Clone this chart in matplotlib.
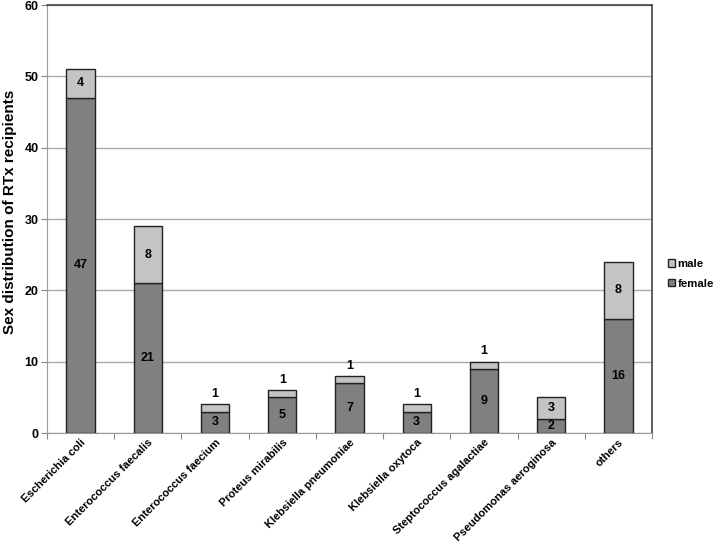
import matplotlib
matplotlib.use("Agg")
import matplotlib.pyplot as plt
import numpy as np

categories = ["Escherichia coli", "Enterococcus faecalis", "Enterococcus faecium",
              "Proteus mirabilis", "Klebsiella pneumoniae", "Klebsiella oxytoca",
              "Steptococcus agalactiae", "Pseudomonas aeroginosa", "others"]
female = [47, 21, 3, 5, 7, 3, 9, 2, 16]
male = [4, 8, 1, 1, 1, 1, 1, 3, 8]
yticks = [0, 10, 20, 30, 40, 50, 60]

plt.rcParams['font.family'] = ['Liberation Sans', 'DejaVu Sans']

fig = plt.figure(figsize=(7.16, 5.46), dpi=100)
ax = fig.add_axes([47/716, 113/546, (652-47)/716, (433-5)/546])

x = np.arange(len(categories))
w = 0.42
fcol = '#808080'
mcol = '#c4c4c4'
bf = ax.bar(x, female, w, color=fcol, edgecolor='#222222', linewidth=1.0, label='female', zorder=3)
bm = ax.bar(x, male, w, bottom=female, color=mcol, edgecolor='#222222', linewidth=1.0, label='male', zorder=3)

for i, (f, m) in enumerate(zip(female, male)):
    ax.text(i, f / 2, str(f), ha='center', va='center', fontsize=9, fontweight='bold', zorder=4)
    if m >= 2:
        ax.text(i, f + m / 2, str(m), ha='center', va='center', fontsize=9, fontweight='bold', zorder=4)
    else:
        ax.text(i, f + m + 0.6, str(m), ha='center', va='bottom', fontsize=9, fontweight='bold', zorder=4)

ax.set_xlim(-0.5, len(categories) - 0.5)
ax.set_ylim(0, 60)
ax.set_yticks(yticks)
ax.set_yticklabels([str(t) for t in yticks], fontsize=9, fontweight='bold')
ax.yaxis.grid(True, color='#aaaaaa', linewidth=1.0, zorder=0)
ax.set_axisbelow(True)

ax.set_xticks(np.arange(len(categories) + 1) - 0.5, minor=False)
ax.set_xticklabels([])
ax.tick_params(axis='x', which='major', length=4, color='#888888')
ax.set_xticks(x, minor=True)
ax.set_xticklabels(categories, minor=True, rotation=45, ha='right', rotation_mode='anchor',
                   fontsize=8.0, fontweight='bold')
ax.tick_params(axis='x', which='minor', length=0, pad=3)
ax.tick_params(axis='y', length=4, color='#888888', pad=2)

for s in ['left', 'bottom']:
    ax.spines[s].set_color('#999999')
for s in ['top', 'right']:
    ax.spines[s].set_color('#444444')
    ax.spines[s].set_linewidth(1.2)

ax.set_ylabel('Sex distribution of RTx recipients', fontsize=11, fontweight='bold')
ax.yaxis.set_label_coords(-30/605, (433-212)/428)

leg = fig.legend(handles=[bm, bf], labels=['male', 'female'], loc='upper left',
                 bbox_to_anchor=(668/716, 1 - 259/546), frameon=False, borderpad=0,
                 borderaxespad=0, handlelength=0.6, handleheight=0.6, handletextpad=0.25,
                 labelspacing=0.85, prop={'weight': 'bold', 'size': 8.2})

fig.savefig('out.png', dpi=100)
